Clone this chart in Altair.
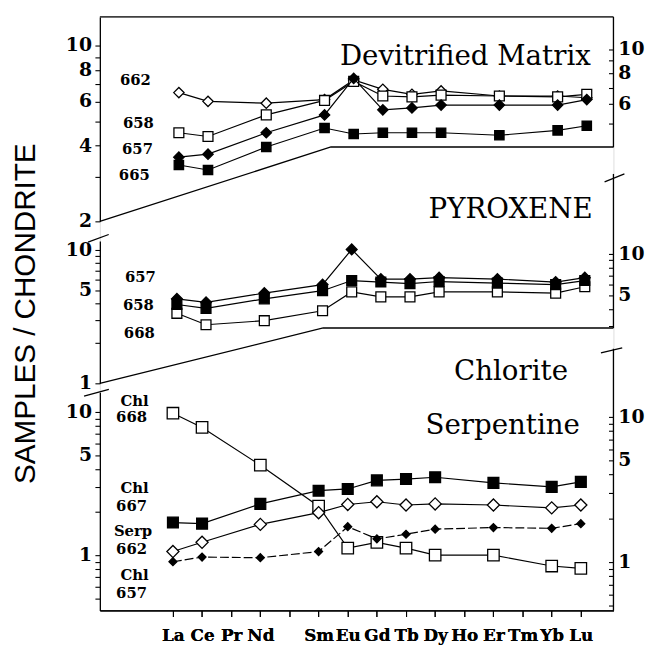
import altair as alt
import pandas as pd

# ---------------- data ----------------
ELEMENTS = ["La", "Ce", "Pr", "Nd", "Pm", "Sm", "Eu", "Gd", "Tb", "Dy", "Ho", "Er", "Tm", "Yb", "Lu"]
TICK_LABELS = ["La", "Ce", "Pr", "Nd", "", "Sm", "Eu", "Gd", "Tb", "Dy", "Ho", "Er", "Tm", "Yb", "Lu"]
MEASURED = ["La", "Ce", "Nd", "Sm", "Eu", "Gd", "Tb", "Dy", "Er", "Yb", "Lu"]

# Devitrified matrix
DM_662 = [6.5, 6.0, 5.9, 6.1, 7.3, 6.7, 6.4, 6.6, 6.3, 6.3, 6.2]
DM_658 = [4.5, 4.35, 5.3, 6.05, 7.2, 6.3, 6.25, 6.35, 6.3, 6.25, 6.4]
DM_657 = [3.6, 3.7, 4.5, 5.3, 7.4, 5.55, 5.65, 5.8, 5.8, 5.8, 6.1]
DM_665 = [3.35, 3.2, 3.95, 4.7, 4.45, 4.5, 4.5, 4.5, 4.4, 4.6, 4.8]

# Pyroxene
PX_657 = [4.3, 4.05, 4.75, 5.5, 10.1, 6.05, 6.05, 6.2, 6.05, 5.75, 6.2]
PX_658 = [3.9, 3.65, 4.3, 4.95, 5.9, 5.75, 5.6, 5.8, 5.65, 5.5, 5.9]
PX_668 = [3.35, 2.75, 2.95, 3.5, 4.85, 4.45, 4.45, 4.85, 4.85, 4.75, 5.3]

# Chlorite / Serpentine
CHL_668 = [9.8, 7.8, 4.25, 2.2, 1.12, 1.23, 1.12, 1.0, 1.0, 0.84, 0.81]
CHL_667 = [1.69, 1.66, 2.28, 2.82, 2.9, 3.33, 3.4, 3.5, 3.2, 3.0, 3.25]
SERP_662 = [1.06, 1.23, 1.64, 1.98, 2.26, 2.36, 2.24, 2.28, 2.24, 2.14, 2.24]
CHL_657 = [0.9, 0.97, 0.96, 1.06, 1.58, 1.3, 1.4, 1.52, 1.56, 1.54, 1.66]

# sample labels (text, x index, y value)
TOP_LABELS = [("662", -1.49, 7.29), ("658", -1.39, 4.94), ("657", -1.42, 3.88), ("665", -1.53, 3.05)]
MID_LABELS = [("657", -1.25, 6.23), ("658", -1.32, 3.85), ("668", -1.29, 2.40)]
BOT_LABELS = [("Chl", -1.32, 11.9), ("668", -1.42, 9.19), ("Chl", -1.32, 2.94), ("667", -1.42, 2.20),
              ("Serp", -1.37, 1.48), ("662", -1.42, 1.105), ("Chl", -1.32, 0.724), ("657", -1.42, 0.541)]
TOP_TITLES = [("Devitrified Matrix", 14.14, 8.35)]
MID_TITLES = [("PYROXENE", 14.27, 17.3)]
BOT_TITLES = [("Chlorite", 13.56, 16.6), ("Serpentine", 13.97, 7.05)]

# ---------------- layout ----------------
PLOT_W, PLOT_H = 520, 601
GEOM = {
    "top": {"xd": [-2.712, 14.915], "left": ([2.0, 13.0], [207, 0]), "right": ([4.02, 13.55], [132, 0])},
    "mid": {"xd": [-2.644, 14.983], "left": ([1.0, 11.66], [371, 227]), "right": ([2.90, 38.1], [315, 159])},
    "bot": {"xd": [-2.508, 15.119], "left": ([0.411, 13.74], [601, 380]), "right": ([0.464, 29.4], [601, 336])},
}
TICKS = {
    "top": {"left": ([2, 3, 4, 5, 6, 7, 8, 9, 10], [2, 4, 6, 8, 10]),
            "right": ([5, 6, 7, 8, 9, 10], [6, 8, 10])},
    "mid": {"left": ([1, 2, 3, 4, 5, 6, 7, 8, 9, 10], [1, 5, 10]),
            "right": ([3, 4, 5, 6, 7, 8, 9, 10], [5, 10])},
    "bot": {"left": ([0.5, 0.6, 0.7, 0.8, 0.9, 1, 2, 3, 4, 5, 6, 7, 8, 9, 10], [1, 5, 10]),
            "right": ([0.5, 0.6, 0.7, 0.8, 0.9, 1, 2, 3, 4, 5, 6, 7, 8, 9, 10], [1, 5, 10])},
}
# frame polylines in data units of each panel's left scale
FRAMES = {
    "top": [("t", 0, -2.712, 13.0), ("t", 1, 14.915, 13.0),
            ("b", 0, -2.712, 2.0), ("b", 1, 5.22, 3.95), ("b", 2, 14.915, 3.95)],
    "mid": [("b", 0, -2.644, 1.0), ("b", 1, 5.02, 2.60), ("b", 2, 14.983, 2.60),
            ("s", 0, -3.05, 11.46), ("s", 1, -2.34, 13.07)],
    "bot": [("s", 0, -3.05, 12.9), ("s", 1, -2.20, 14.4)],
}
# break slashes on right axes (data units of right scales)
RIGHT_SLASH = {
    "top": [],
    "mid": [(0, 14.68, 33.4), (1, 15.36, 38.1)],
    "bot": [(0, 14.69, 27.5), (1, 15.42, 29.8)],
}

SERIES = {
    "top": [(DM_662, "diamond", "white", 110, None), (DM_658, "square", "white", 100, None),
            (DM_657, "diamond", "black", 110, None), (DM_665, "square", "black", 90, None)],
    "mid": [(PX_668, "square", "white", 100, None), (PX_658, "square", "black", 100, None),
            (PX_657, "diamond", "black", 120, None)],
    "bot": [(CHL_668, "square", "white", 135, None), (CHL_667, "square", "black", 120, None),
            (SERP_662, "diamond", "white", 150, None), (CHL_657, "diamond", "black", 64, [9, 3])],
}
PANEL_LABELS = {"top": TOP_LABELS, "mid": MID_LABELS, "bot": BOT_LABELS}
PANEL_TITLES = {"top": TOP_TITLES, "mid": MID_TITLES, "bot": BOT_TITLES}

SERIF = "DejaVu Serif"
TICK_FONT = dict(font=SERIF, fontWeight="bold", fontSize=19, color="black", baseline="middle")


def y_axis(p, side):
    vals, _ = TICKS[p][side]
    kw = dict(orient=side, values=vals, labels=False, tickSize=5, grid=False,
              tickColor="black", domainColor="black", domainWidth=1.3, tickWidth=1.1, title=None)
    if side == "right":
        kw.update(offset=-5, domain=False)
    if p == "mid" and side == "left":
        kw.update(title="SAMPLES / CHONDRITE", titleFont="Liberation Sans", titleFontSize=30,
                  titleFontWeight="normal", titleColor="black", titleAngle=270,
                  titleX=-75, titleY=300, titleAlign="center", titleBaseline="middle")
    return alt.Axis(**kw)


X_AXIS = alt.Axis(orient="bottom", values=list(range(len(ELEMENTS))),
                  labelExpr="[" + ",".join(f"'{t}'" for t in TICK_LABELS) + "][datum.value]",
                  tickSize=6, labelPadding=11, grid=False, labelOverlap=False, labelFlush=False,
                  labelFont=SERIF, labelFontWeight="bold", labelFontSize=17, labelColor="black",
                  tickColor="black", domainColor="black", domainWidth=1.3, tickWidth=1.1, title=None)


def enc_x(p):
    return alt.X("x:Q", scale=alt.Scale(domain=GEOM[p]["xd"], nice=False, zero=False),
                 axis=X_AXIS if p == "bot" else None)


def enc_y(p, side):
    d, r = GEOM[p][side]
    return alt.Y("y:Q", scale=alt.Scale(type="log", domain=d, range=r, nice=False),
                 axis=y_axis(p, side))


def tick_labels(p, side, X, Y):
    _, labs = TICKS[p][side]
    xd = GEOM[p]["xd"]
    df = pd.DataFrame({"x": [xd[0] if side == "left" else xd[1]] * len(labs),
                       "y": labs, "t": [str(v) for v in labs]})
    if side == "left":
        mk = alt.Chart(df).mark_text(align="right", dx=-8, **TICK_FONT)
    else:
        mk = alt.Chart(df).mark_text(align="left", dx=5, **TICK_FONT)
    return mk.encode(x=X, y=Y, text="t:N")


def panel_main(p):
    X = enc_x(p)
    Y = enc_y(p, "left")
    layers = []
    fdf = pd.DataFrame(FRAMES[p], columns=["seg", "o", "x", "y"])
    layers.append(alt.Chart(fdf).mark_line(color="black", strokeWidth=1.3, clip=False)
                  .encode(x=X, y=Y, detail="seg:N", order="o:Q"))
    for vals, shape, fill, size, dash in SERIES[p]:
        df = pd.DataFrame({"x": [ELEMENTS.index(e) for e in MEASURED], "y": vals})
        lkw = dict(color="black", strokeWidth=1.2)
        if dash:
            lkw["strokeDash"] = dash
        layers.append(alt.Chart(df).mark_line(**lkw).encode(x=X, y=Y))
        layers.append(alt.Chart(df).mark_point(shape=shape, filled=True, fill=fill, stroke="black",
                                               strokeWidth=1.3, size=size, opacity=1)
                      .encode(x=X, y=Y))
    ldf = pd.DataFrame(PANEL_LABELS[p], columns=["t", "x", "y"])
    layers.append(alt.Chart(ldf).mark_text(font=SERIF, fontWeight="bold", fontSize=15, color="black",
                                           align="center", baseline="middle")
                  .encode(x=X, y=Y, text="t:N"))
    tdf = pd.DataFrame(PANEL_TITLES[p], columns=["t", "x", "y"])
    layers.append(alt.Chart(tdf).mark_text(font=SERIF, fontSize=28, color="black",
                                           align="right", baseline="alphabetic")
                  .encode(x=X, y=Y, text="t:N"))
    layers.append(tick_labels(p, "left", X, Y))
    return alt.layer(*layers)


def panel_right(p):
    X = enc_x(p)
    Y = enc_y(p, "right")
    d, _ = GEOM[p]["right"]
    xmax = GEOM[p]["xd"][1]
    rdf = pd.DataFrame({"x": [xmax], "y": [d[0]], "y2": [d[1]]})
    layers = [alt.Chart(rdf).mark_rule(color="black", strokeWidth=1.3)
              .encode(x=X, y=Y, y2="y2:Q")]
    if RIGHT_SLASH[p]:
        sdf = pd.DataFrame(RIGHT_SLASH[p], columns=["o", "x", "y"])
        layers.append(alt.Chart(sdf).mark_line(color="black", strokeWidth=1.3, clip=False)
                      .encode(x=X, y=Y, order="o:Q"))
    layers.append(tick_labels(p, "right", X, Y))
    return alt.layer(*layers)


children = []
for p in ["top", "mid", "bot"]:
    children.append(panel_main(p))
    children.append(panel_right(p))

chart = (alt.layer(*children)
         .resolve_scale(x="independent", y="independent")
         .properties(width=PLOT_W, height=PLOT_H,
                     padding={"left": 93, "top": 5, "right": 35, "bottom": 36},
                     autosize=alt.AutoSizeParams(type="none"))
         .configure_view(stroke=None)
         .configure(background="white"))

chart.save("out.html", embed_options={"renderer": "svg", "actions": False})
